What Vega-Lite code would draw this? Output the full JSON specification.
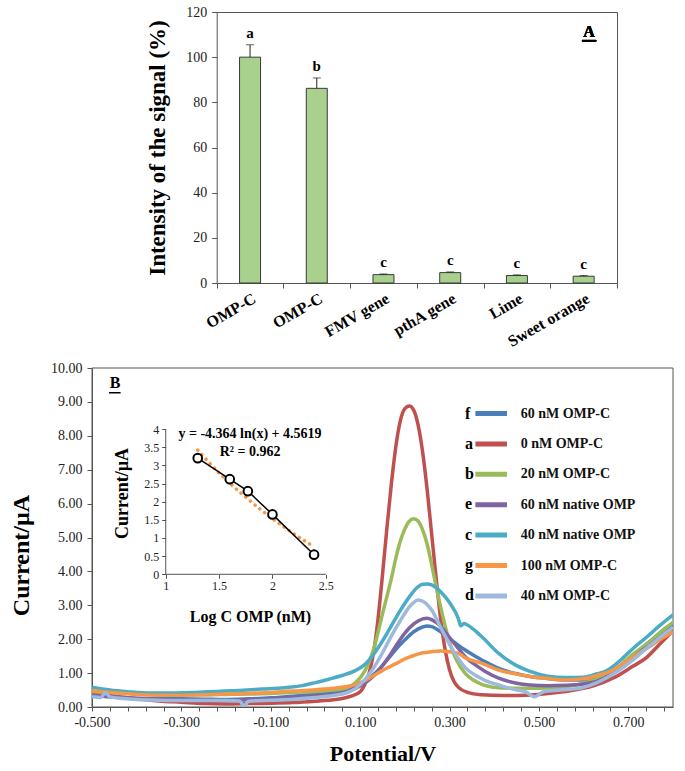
{
  "$schema": "https://vega.github.io/schema/vega-lite/v6.json",
  "background": "white",
  "padding": {"left": 9, "top": 5, "right": 5, "bottom": 2},
  "spacing": 11,
  "config": {
    "font": "Liberation Serif",
    "axis": {"grid": false, "labelFont": "Liberation Serif", "titleFont": "Liberation Serif", "labelColor": "#222", "titleColor": "#000", "domainColor": "#555", "tickColor": "#555", "labelFontSize": 14, "titleFontWeight": "bold"},
    "legend": {"labelFont": "Liberation Serif", "labelColor": "#111"},
    "text": {"font": "Liberation Serif"},
    "view": {"stroke": null}
  },
  "vconcat": [
    {
      "width": 525,
      "height": 271,
      "data": {"values": [
        {"sample": "OMP-C", "value": 100, "upper": 105.5, "group": "a"},
        {"sample": "OMP-C ", "value": 86.2, "upper": 90.8, "group": "b"},
        {"sample": "FMV gene", "value": 3.7, "upper": 4.0, "group": "c"},
        {"sample": "pthA gene", "value": 4.6, "upper": 4.9, "group": "c"},
        {"sample": "Lime", "value": 3.3, "upper": 3.6, "group": "c"},
        {"sample": "Sweet orange", "value": 3.0, "upper": 3.3, "group": "c"}
      ]},
      "resolve": {"axis": {"x": "independent", "y": "independent"}},
      "layer": [
        {
          "mark": {"type": "bar", "width": 21, "fill": "#a9d18e", "stroke": "#3a3a3a", "strokeWidth": 1},
          "encoding": {
            "x": {"field": "sample", "type": "nominal", "sort": null,
              "scale": {"range": [124.7, 525], "paddingInner": 0, "paddingOuter": 0},
              "axis": {"orient": "bottom", "title": null, "tickBand": "extent", "labelExpr": "trim(datum.label)", "labelAngle": -30, "labelFontSize": 16, "labelFontWeight": "bold", "labelColor": "#000", "tickSize": 5, "labelPadding": 2, "labelOverlap": false, "labelBound": false}},
            "y": {"field": "value", "type": "quantitative", "scale": {"domain": [0, 120], "nice": false},
              "axis": {"orient": "left", "offset": -124.7, "values": [0, 20, 40, 60, 80, 100, 120], "tickCount": 100, "title": "Intensity of the signal (%)", "titleFontSize": 23, "titlePadding": 16, "tickSize": 5, "labelPadding": 5}}
          }
        },
        {
          "mark": {"type": "rule", "color": "#222", "strokeWidth": 1},
          "encoding": {
            "x": {"field": "sample", "type": "nominal", "sort": null, "axis": {"orient": "top", "labels": false, "ticks": false, "title": null}},
            "y": {"field": "value", "type": "quantitative", "axis": {"orient": "right", "labels": false, "ticks": false, "title": null}},
            "y2": {"field": "upper"}
          }
        },
        {
          "mark": {"type": "tick", "orient": "horizontal", "color": "#222", "size": 8, "thickness": 1},
          "encoding": {
            "x": {"field": "sample", "type": "nominal", "sort": null, "axis": null},
            "y": {"field": "upper", "type": "quantitative", "axis": null}
          }
        },
        {
          "mark": {"type": "text", "fontSize": 15, "fontWeight": "bold", "dy": -7, "baseline": "alphabetic", "color": "#000"},
          "encoding": {
            "x": {"field": "sample", "type": "nominal", "sort": null, "axis": null},
            "y": {"field": "upper", "type": "quantitative", "axis": null},
            "text": {"field": "group"}
          }
        },
        {
          "mark": {"type": "text", "text": "A", "fontSize": 16, "fontWeight": "bold", "baseline": "alphabetic", "dx": 5.5, "color": "#000"},
          "encoding": {
            "x": {"datum": "Sweet orange", "type": "nominal", "axis": null},
            "y": {"datum": 108.8, "type": "quantitative", "axis": null}
          }
        },
        {
          "mark": {"type": "rule", "color": "#000", "strokeWidth": 1.5, "xOffset": -1.7, "x2Offset": 12.6},
          "encoding": {
            "x": {"datum": "Sweet orange", "type": "nominal", "axis": null},
            "x2": {"datum": "Sweet orange"},
            "y": {"datum": 107.3, "type": "quantitative", "axis": null}
          }
        }
      ]
    },
    {
      "width": 581,
      "height": 339,
      "resolve": {"scale": {"x": "independent", "y": "independent"}},
      "layer": [
        {
          "layer": [
            {
              "data": {"values": [{}]},
              "mark": {"type": "rect", "fillOpacity": 0, "stroke": "#555", "strokeWidth": 1},
              "encoding": {
                "x": {"datum": -0.5, "type": "quantitative"},
                "x2": {"datum": 0.8},
                "y": {"datum": 0, "type": "quantitative"},
                "y2": {"datum": 10}
              }
            },
            {
              "data": {"values": [
{"series":"60 nM OMP-C","potential":-0.5,"current":0.35},{"series":"60 nM OMP-C","potential":-0.46,"current":0.3},{"series":"60 nM OMP-C","potential":-0.4,"current":0.26},{"series":"60 nM OMP-C","potential":-0.35,"current":0.25},{"series":"60 nM OMP-C","potential":-0.3,"current":0.24},{"series":"60 nM OMP-C","potential":-0.25,"current":0.23},{"series":"60 nM OMP-C","potential":-0.2,"current":0.22},{"series":"60 nM OMP-C","potential":-0.15,"current":0.24},{"series":"60 nM OMP-C","potential":-0.1,"current":0.27},{"series":"60 nM OMP-C","potential":-0.05,"current":0.32},{"series":"60 nM OMP-C","potential":0,"current":0.38},{"series":"60 nM OMP-C","potential":0.04,"current":0.42},{"series":"60 nM OMP-C","potential":0.08,"current":0.55},{"series":"60 nM OMP-C","potential":0.1,"current":0.68},{"series":"60 nM OMP-C","potential":0.12,"current":0.85},{"series":"60 nM OMP-C","potential":0.14,"current":1.08},{"series":"60 nM OMP-C","potential":0.16,"current":1.38},{"series":"60 nM OMP-C","potential":0.18,"current":1.7},{"series":"60 nM OMP-C","potential":0.2,"current":1.98},{"series":"60 nM OMP-C","potential":0.22,"current":2.22},{"series":"60 nM OMP-C","potential":0.24,"current":2.36},{"series":"60 nM OMP-C","potential":0.25,"current":2.39},{"series":"60 nM OMP-C","potential":0.26,"current":2.37},{"series":"60 nM OMP-C","potential":0.28,"current":2.22},{"series":"60 nM OMP-C","potential":0.3,"current":2.02},{"series":"60 nM OMP-C","potential":0.32,"current":1.82},{"series":"60 nM OMP-C","potential":0.335,"current":1.68},{"series":"60 nM OMP-C","potential":0.36,"current":1.48},{"series":"60 nM OMP-C","potential":0.38,"current":1.33},{"series":"60 nM OMP-C","potential":0.41,"current":1.14},{"series":"60 nM OMP-C","potential":0.45,"current":0.98},{"series":"60 nM OMP-C","potential":0.48,"current":0.9},{"series":"60 nM OMP-C","potential":0.52,"current":0.84},{"series":"60 nM OMP-C","potential":0.56,"current":0.8},{"series":"60 nM OMP-C","potential":0.6,"current":0.8},{"series":"60 nM OMP-C","potential":0.63,"current":0.85},{"series":"60 nM OMP-C","potential":0.66,"current":0.98},{"series":"60 nM OMP-C","potential":0.69,"current":1.25},{"series":"60 nM OMP-C","potential":0.72,"current":1.62},{"series":"60 nM OMP-C","potential":0.75,"current":1.95},{"series":"60 nM OMP-C","potential":0.78,"current":2.28},{"series":"60 nM OMP-C","potential":0.8,"current":2.45},
{"series":"0 nM OMP-C","potential":-0.5,"current":0.42},{"series":"0 nM OMP-C","potential":-0.47,"current":0.36},{"series":"0 nM OMP-C","potential":-0.44,"current":0.3},{"series":"0 nM OMP-C","potential":-0.4,"current":0.24},{"series":"0 nM OMP-C","potential":-0.35,"current":0.18},{"series":"0 nM OMP-C","potential":-0.3,"current":0.14},{"series":"0 nM OMP-C","potential":-0.25,"current":0.1},{"series":"0 nM OMP-C","potential":-0.2,"current":0.09},{"series":"0 nM OMP-C","potential":-0.15,"current":0.1},{"series":"0 nM OMP-C","potential":-0.1,"current":0.11},{"series":"0 nM OMP-C","potential":-0.05,"current":0.13},{"series":"0 nM OMP-C","potential":0,"current":0.17},{"series":"0 nM OMP-C","potential":0.03,"current":0.2},{"series":"0 nM OMP-C","potential":0.06,"current":0.25},{"series":"0 nM OMP-C","potential":0.08,"current":0.32},{"series":"0 nM OMP-C","potential":0.1,"current":0.45},{"series":"0 nM OMP-C","potential":0.11,"current":0.65},{"series":"0 nM OMP-C","potential":0.12,"current":1.0},{"series":"0 nM OMP-C","potential":0.13,"current":1.6},{"series":"0 nM OMP-C","potential":0.14,"current":2.6},{"series":"0 nM OMP-C","potential":0.15,"current":3.9},{"series":"0 nM OMP-C","potential":0.16,"current":5.3},{"series":"0 nM OMP-C","potential":0.17,"current":6.6},{"series":"0 nM OMP-C","potential":0.18,"current":7.7},{"series":"0 nM OMP-C","potential":0.19,"current":8.45},{"series":"0 nM OMP-C","potential":0.2,"current":8.8},{"series":"0 nM OMP-C","potential":0.21,"current":8.88},{"series":"0 nM OMP-C","potential":0.22,"current":8.75},{"series":"0 nM OMP-C","potential":0.23,"current":8.3},{"series":"0 nM OMP-C","potential":0.24,"current":7.5},{"series":"0 nM OMP-C","potential":0.25,"current":6.4},{"series":"0 nM OMP-C","potential":0.26,"current":5.1},{"series":"0 nM OMP-C","potential":0.27,"current":3.8},{"series":"0 nM OMP-C","potential":0.28,"current":2.6},{"series":"0 nM OMP-C","potential":0.29,"current":1.7},{"series":"0 nM OMP-C","potential":0.3,"current":1.1},{"series":"0 nM OMP-C","potential":0.31,"current":0.75},{"series":"0 nM OMP-C","potential":0.32,"current":0.58},{"series":"0 nM OMP-C","potential":0.34,"current":0.43},{"series":"0 nM OMP-C","potential":0.37,"current":0.36},{"series":"0 nM OMP-C","potential":0.42,"current":0.34},{"series":"0 nM OMP-C","potential":0.47,"current":0.35},{"series":"0 nM OMP-C","potential":0.52,"current":0.4},{"series":"0 nM OMP-C","potential":0.57,"current":0.48},{"series":"0 nM OMP-C","potential":0.62,"current":0.62},{"series":"0 nM OMP-C","potential":0.67,"current":0.88},{"series":"0 nM OMP-C","potential":0.71,"current":1.2},{"series":"0 nM OMP-C","potential":0.74,"current":1.45},{"series":"0 nM OMP-C","potential":0.77,"current":1.85},{"series":"0 nM OMP-C","potential":0.8,"current":2.25},
{"series":"20 nM OMP-C","potential":-0.5,"current":0.45},{"series":"20 nM OMP-C","potential":-0.45,"current":0.42},{"series":"20 nM OMP-C","potential":-0.4,"current":0.39},{"series":"20 nM OMP-C","potential":-0.35,"current":0.37},{"series":"20 nM OMP-C","potential":-0.3,"current":0.36},{"series":"20 nM OMP-C","potential":-0.25,"current":0.36},{"series":"20 nM OMP-C","potential":-0.2,"current":0.37},{"series":"20 nM OMP-C","potential":-0.15,"current":0.38},{"series":"20 nM OMP-C","potential":-0.1,"current":0.4},{"series":"20 nM OMP-C","potential":-0.05,"current":0.43},{"series":"20 nM OMP-C","potential":0,"current":0.46},{"series":"20 nM OMP-C","potential":0.04,"current":0.5},{"series":"20 nM OMP-C","potential":0.07,"current":0.56},{"series":"20 nM OMP-C","potential":0.09,"current":0.72},{"series":"20 nM OMP-C","potential":0.11,"current":1.05},{"series":"20 nM OMP-C","potential":0.13,"current":1.7},{"series":"20 nM OMP-C","potential":0.15,"current":2.75},{"series":"20 nM OMP-C","potential":0.17,"current":3.8},{"series":"20 nM OMP-C","potential":0.18,"current":4.4},{"series":"20 nM OMP-C","potential":0.19,"current":4.9},{"series":"20 nM OMP-C","potential":0.2,"current":5.25},{"series":"20 nM OMP-C","potential":0.21,"current":5.48},{"series":"20 nM OMP-C","potential":0.22,"current":5.55},{"series":"20 nM OMP-C","potential":0.23,"current":5.48},{"series":"20 nM OMP-C","potential":0.24,"current":5.22},{"series":"20 nM OMP-C","potential":0.25,"current":4.8},{"series":"20 nM OMP-C","potential":0.26,"current":4.2},{"series":"20 nM OMP-C","potential":0.27,"current":3.55},{"series":"20 nM OMP-C","potential":0.28,"current":2.95},{"series":"20 nM OMP-C","potential":0.29,"current":2.4},{"series":"20 nM OMP-C","potential":0.3,"current":1.9},{"series":"20 nM OMP-C","potential":0.315,"current":1.4},{"series":"20 nM OMP-C","potential":0.335,"current":0.99},{"series":"20 nM OMP-C","potential":0.355,"current":0.78},{"series":"20 nM OMP-C","potential":0.375,"current":0.65},{"series":"20 nM OMP-C","potential":0.4,"current":0.58},{"series":"20 nM OMP-C","potential":0.43,"current":0.55},{"series":"20 nM OMP-C","potential":0.48,"current":0.55},{"series":"20 nM OMP-C","potential":0.52,"current":0.56},{"series":"20 nM OMP-C","potential":0.56,"current":0.6},{"series":"20 nM OMP-C","potential":0.6,"current":0.7},{"series":"20 nM OMP-C","potential":0.63,"current":0.82},{"series":"20 nM OMP-C","potential":0.67,"current":1.1},{"series":"20 nM OMP-C","potential":0.71,"current":1.55},{"series":"20 nM OMP-C","potential":0.75,"current":1.95},{"series":"20 nM OMP-C","potential":0.78,"current":2.3},{"series":"20 nM OMP-C","potential":0.8,"current":2.5},
{"series":"60 nM native OMP","potential":-0.5,"current":0.35},{"series":"60 nM native OMP","potential":-0.45,"current":0.3},{"series":"60 nM native OMP","potential":-0.4,"current":0.25},{"series":"60 nM native OMP","potential":-0.35,"current":0.22},{"series":"60 nM native OMP","potential":-0.3,"current":0.2},{"series":"60 nM native OMP","potential":-0.25,"current":0.19},{"series":"60 nM native OMP","potential":-0.2,"current":0.19},{"series":"60 nM native OMP","potential":-0.15,"current":0.21},{"series":"60 nM native OMP","potential":-0.1,"current":0.24},{"series":"60 nM native OMP","potential":-0.05,"current":0.28},{"series":"60 nM native OMP","potential":0,"current":0.33},{"series":"60 nM native OMP","potential":0.04,"current":0.38},{"series":"60 nM native OMP","potential":0.08,"current":0.5},{"series":"60 nM native OMP","potential":0.1,"current":0.62},{"series":"60 nM native OMP","potential":0.12,"current":0.8},{"series":"60 nM native OMP","potential":0.14,"current":1.05},{"series":"60 nM native OMP","potential":0.16,"current":1.4},{"series":"60 nM native OMP","potential":0.18,"current":1.8},{"series":"60 nM native OMP","potential":0.2,"current":2.18},{"series":"60 nM native OMP","potential":0.22,"current":2.45},{"series":"60 nM native OMP","potential":0.24,"current":2.6},{"series":"60 nM native OMP","potential":0.25,"current":2.62},{"series":"60 nM native OMP","potential":0.26,"current":2.58},{"series":"60 nM native OMP","potential":0.28,"current":2.38},{"series":"60 nM native OMP","potential":0.3,"current":2.05},{"series":"60 nM native OMP","potential":0.32,"current":1.72},{"series":"60 nM native OMP","potential":0.335,"current":1.48},{"series":"60 nM native OMP","potential":0.36,"current":1.22},{"series":"60 nM native OMP","potential":0.38,"current":1.05},{"series":"60 nM native OMP","potential":0.41,"current":0.85},{"series":"60 nM native OMP","potential":0.45,"current":0.7},{"series":"60 nM native OMP","potential":0.48,"current":0.65},{"series":"60 nM native OMP","potential":0.52,"current":0.63},{"series":"60 nM native OMP","potential":0.56,"current":0.64},{"series":"60 nM native OMP","potential":0.6,"current":0.68},{"series":"60 nM native OMP","potential":0.63,"current":0.76},{"series":"60 nM native OMP","potential":0.66,"current":0.95},{"series":"60 nM native OMP","potential":0.69,"current":1.22},{"series":"60 nM native OMP","potential":0.72,"current":1.55},{"series":"60 nM native OMP","potential":0.75,"current":1.85},{"series":"60 nM native OMP","potential":0.78,"current":2.15},{"series":"60 nM native OMP","potential":0.8,"current":2.35},
{"series":"40 nM native OMP","potential":-0.5,"current":0.58},{"series":"40 nM native OMP","potential":-0.46,"current":0.5},{"series":"40 nM native OMP","potential":-0.42,"current":0.45},{"series":"40 nM native OMP","potential":-0.37,"current":0.41},{"series":"40 nM native OMP","potential":-0.32,"current":0.41},{"series":"40 nM native OMP","potential":-0.27,"current":0.43},{"series":"40 nM native OMP","potential":-0.22,"current":0.46},{"series":"40 nM native OMP","potential":-0.17,"current":0.49},{"series":"40 nM native OMP","potential":-0.12,"current":0.53},{"series":"40 nM native OMP","potential":-0.07,"current":0.57},{"series":"40 nM native OMP","potential":-0.03,"current":0.63},{"series":"40 nM native OMP","potential":0,"current":0.72},{"series":"40 nM native OMP","potential":0.03,"current":0.82},{"series":"40 nM native OMP","potential":0.06,"current":0.93},{"series":"40 nM native OMP","potential":0.09,"current":1.08},{"series":"40 nM native OMP","potential":0.11,"current":1.25},{"series":"40 nM native OMP","potential":0.13,"current":1.55},{"series":"40 nM native OMP","potential":0.15,"current":1.95},{"series":"40 nM native OMP","potential":0.17,"current":2.4},{"series":"40 nM native OMP","potential":0.19,"current":2.85},{"series":"40 nM native OMP","potential":0.21,"current":3.25},{"series":"40 nM native OMP","potential":0.23,"current":3.55},{"series":"40 nM native OMP","potential":0.24,"current":3.62},{"series":"40 nM native OMP","potential":0.25,"current":3.63},{"series":"40 nM native OMP","potential":0.26,"current":3.6},{"series":"40 nM native OMP","potential":0.28,"current":3.4},{"series":"40 nM native OMP","potential":0.3,"current":3.08},{"series":"40 nM native OMP","potential":0.32,"current":2.6},{"series":"40 nM native OMP","potential":0.325,"current":2.4},{"series":"40 nM native OMP","potential":0.332,"current":2.46},{"series":"40 nM native OMP","potential":0.34,"current":2.42},{"series":"40 nM native OMP","potential":0.37,"current":2.1},{"series":"40 nM native OMP","potential":0.41,"current":1.58},{"series":"40 nM native OMP","potential":0.45,"current":1.22},{"series":"40 nM native OMP","potential":0.48,"current":1.05},{"series":"40 nM native OMP","potential":0.52,"current":0.91},{"series":"40 nM native OMP","potential":0.56,"current":0.87},{"series":"40 nM native OMP","potential":0.6,"current":0.88},{"series":"40 nM native OMP","potential":0.63,"current":0.98},{"series":"40 nM native OMP","potential":0.65,"current":1.06},{"series":"40 nM native OMP","potential":0.68,"current":1.35},{"series":"40 nM native OMP","potential":0.71,"current":1.72},{"series":"40 nM native OMP","potential":0.74,"current":2.05},{"series":"40 nM native OMP","potential":0.77,"current":2.4},{"series":"40 nM native OMP","potential":0.8,"current":2.72},
{"series":"100 nM OMP-C","potential":-0.5,"current":0.48},{"series":"100 nM OMP-C","potential":-0.45,"current":0.42},{"series":"100 nM OMP-C","potential":-0.4,"current":0.37},{"series":"100 nM OMP-C","potential":-0.35,"current":0.35},{"series":"100 nM OMP-C","potential":-0.3,"current":0.35},{"series":"100 nM OMP-C","potential":-0.25,"current":0.36},{"series":"100 nM OMP-C","potential":-0.2,"current":0.38},{"series":"100 nM OMP-C","potential":-0.15,"current":0.4},{"series":"100 nM OMP-C","potential":-0.1,"current":0.43},{"series":"100 nM OMP-C","potential":-0.05,"current":0.47},{"series":"100 nM OMP-C","potential":0,"current":0.51},{"series":"100 nM OMP-C","potential":0.05,"current":0.57},{"series":"100 nM OMP-C","potential":0.08,"current":0.63},{"series":"100 nM OMP-C","potential":0.1,"current":0.72},{"series":"100 nM OMP-C","potential":0.12,"current":0.85},{"series":"100 nM OMP-C","potential":0.14,"current":1.0},{"series":"100 nM OMP-C","potential":0.16,"current":1.15},{"series":"100 nM OMP-C","potential":0.18,"current":1.28},{"series":"100 nM OMP-C","potential":0.2,"current":1.42},{"series":"100 nM OMP-C","potential":0.22,"current":1.52},{"series":"100 nM OMP-C","potential":0.24,"current":1.6},{"series":"100 nM OMP-C","potential":0.26,"current":1.63},{"series":"100 nM OMP-C","potential":0.28,"current":1.65},{"series":"100 nM OMP-C","potential":0.3,"current":1.63},{"series":"100 nM OMP-C","potential":0.32,"current":1.58},{"series":"100 nM OMP-C","potential":0.335,"current":1.45},{"series":"100 nM OMP-C","potential":0.37,"current":1.3},{"series":"100 nM OMP-C","potential":0.41,"current":1.09},{"series":"100 nM OMP-C","potential":0.45,"current":0.97},{"series":"100 nM OMP-C","potential":0.48,"current":0.9},{"series":"100 nM OMP-C","potential":0.52,"current":0.84},{"series":"100 nM OMP-C","potential":0.56,"current":0.8},{"series":"100 nM OMP-C","potential":0.6,"current":0.83},{"series":"100 nM OMP-C","potential":0.63,"current":0.93},{"series":"100 nM OMP-C","potential":0.66,"current":1.05},{"series":"100 nM OMP-C","potential":0.7,"current":1.38},{"series":"100 nM OMP-C","potential":0.74,"current":1.72},{"series":"100 nM OMP-C","potential":0.77,"current":1.98},{"series":"100 nM OMP-C","potential":0.8,"current":2.22},
{"series":"40 nM OMP-C","potential":-0.5,"current":0.3},{"series":"40 nM OMP-C","potential":-0.48,"current":0.28},{"series":"40 nM OMP-C","potential":-0.47,"current":0.42},{"series":"40 nM OMP-C","potential":-0.46,"current":0.3},{"series":"40 nM OMP-C","potential":-0.43,"current":0.25},{"series":"40 nM OMP-C","potential":-0.4,"current":0.22},{"series":"40 nM OMP-C","potential":-0.35,"current":0.2},{"series":"40 nM OMP-C","potential":-0.3,"current":0.19},{"series":"40 nM OMP-C","potential":-0.25,"current":0.19},{"series":"40 nM OMP-C","potential":-0.2,"current":0.19},{"series":"40 nM OMP-C","potential":-0.17,"current":0.18},{"series":"40 nM OMP-C","potential":-0.16,"current":0.03},{"series":"40 nM OMP-C","potential":-0.15,"current":0.17},{"series":"40 nM OMP-C","potential":-0.1,"current":0.2},{"series":"40 nM OMP-C","potential":-0.05,"current":0.23},{"series":"40 nM OMP-C","potential":0,"current":0.28},{"series":"40 nM OMP-C","potential":0.04,"current":0.34},{"series":"40 nM OMP-C","potential":0.07,"current":0.42},{"series":"40 nM OMP-C","potential":0.09,"current":0.55},{"series":"40 nM OMP-C","potential":0.11,"current":0.8},{"series":"40 nM OMP-C","potential":0.13,"current":1.15},{"series":"40 nM OMP-C","potential":0.15,"current":1.6},{"series":"40 nM OMP-C","potential":0.17,"current":2.1},{"series":"40 nM OMP-C","potential":0.19,"current":2.55},{"series":"40 nM OMP-C","potential":0.21,"current":2.95},{"series":"40 nM OMP-C","potential":0.23,"current":3.16},{"series":"40 nM OMP-C","potential":0.24,"current":3.12},{"series":"40 nM OMP-C","potential":0.26,"current":2.86},{"series":"40 nM OMP-C","potential":0.28,"current":2.35},{"series":"40 nM OMP-C","potential":0.3,"current":1.85},{"series":"40 nM OMP-C","potential":0.32,"current":1.42},{"series":"40 nM OMP-C","potential":0.335,"current":1.16},{"series":"40 nM OMP-C","potential":0.36,"current":0.92},{"series":"40 nM OMP-C","potential":0.38,"current":0.78},{"series":"40 nM OMP-C","potential":0.41,"current":0.65},{"series":"40 nM OMP-C","potential":0.45,"current":0.5},{"series":"40 nM OMP-C","potential":0.47,"current":0.45},{"series":"40 nM OMP-C","potential":0.49,"current":0.3},{"series":"40 nM OMP-C","potential":0.51,"current":0.45},{"series":"40 nM OMP-C","potential":0.55,"current":0.5},{"series":"40 nM OMP-C","potential":0.6,"current":0.58},{"series":"40 nM OMP-C","potential":0.63,"current":0.72},{"series":"40 nM OMP-C","potential":0.67,"current":1.0},{"series":"40 nM OMP-C","potential":0.71,"current":1.38},{"series":"40 nM OMP-C","potential":0.74,"current":1.73},{"series":"40 nM OMP-C","potential":0.77,"current":2.05},{"series":"40 nM OMP-C","potential":0.8,"current":2.35}
              ]},
              "mark": {"type": "line", "strokeWidth": 3.5, "interpolate": "monotone", "clip": true},
              "encoding": {
                "x": {"field": "potential", "type": "quantitative",
                  "scale": {"domain": [-0.5, 0.8], "nice": false, "zero": false},
                  "axis": {"orient": "bottom", "values": [-0.5,-0.46,-0.42,-0.38,-0.34,-0.3,-0.26,-0.22,-0.18,-0.14,-0.1,-0.06,-0.02,0.02,0.06,0.1,0.14,0.18,0.22,0.26,0.3,0.34,0.38,0.42,0.46,0.5,0.54,0.58,0.62,0.66,0.7,0.74,0.78],
                    "tickCount": 200,
                    "labelExpr": "abs(round(datum.value*100)+50) % 20 == 0 ? replace(format(datum.value, '.3f'), '\u2212', '-') : ''",
                    "labelOverlap": false, "labelFlush": false, "labelBound": false, "tickSize": 4, "labelPadding": 4,
                    "title": "Potential/V", "titleFontSize": 22, "titlePadding": 14}},
                "y": {"field": "current", "type": "quantitative",
                  "scale": {"domain": [0, 10], "nice": false, "zero": false},
                  "axis": {"orient": "left", "values": [0,1,2,3,4,5,6,7,8,9,10], "tickCount": 200, "labelOverlap": false, "format": ".2f", "tickSize": 5, "labelPadding": 5,
                    "title": "Current/µA", "titleFontSize": 24, "titleX": -64, "titleY": 187, "titleAngle": -90, "titleBaseline": "alphabetic", "titleAlign": "center"}},
                "color": {"field": "series", "type": "nominal",
                  "scale": {"domain": ["60 nM OMP-C", "0 nM OMP-C", "20 nM OMP-C", "60 nM native OMP", "40 nM native OMP", "100 nM OMP-C", "40 nM OMP-C"],
                    "range": ["#4a7ebb", "#c0504d", "#9bbb59", "#8064a2", "#4bacc6", "#f79646", "#9db9dd"]},
                  "legend": {"orient": "none", "legendX": 380.7, "legendY": 383, "title": null, "symbolType": "stroke", "symbolSize": 1000, "symbolStrokeWidth": 5, "labelFontSize": 14, "labelFontWeight": "bold", "labelOffset": 11, "rowPadding": 1.4}}
              }
            },
            {
              "data": {"values": [{}]},
              "mark": {"type": "text", "text": "B", "fontSize": 16, "fontWeight": "bold", "baseline": "alphabetic", "color": "#000"},
              "encoding": {"x": {"datum": -0.4486, "type": "quantitative"}, "y": {"datum": 9.4, "type": "quantitative"}}
            },
            {
              "data": {"values": [{}]},
              "mark": {"type": "rule", "color": "#000", "strokeWidth": 1.5},
              "encoding": {"x": {"datum": -0.462, "type": "quantitative"}, "x2": {"datum": -0.436}, "y": {"datum": 9.27, "type": "quantitative"}}
            },
            {
              "data": {"values": [{"letter": "f"}, {"letter": "a"}, {"letter": "b"}, {"letter": "e"}, {"letter": "c"}, {"letter": "g"}, {"letter": "d"}]},
              "mark": {"type": "point", "opacity": 0},
              "encoding": {
                "shape": {"field": "letter", "type": "nominal",
                  "scale": {"domain": ["f", "a", "b", "e", "c", "g", "d"], "range": ["stroke"]},
                  "legend": {"orient": "none", "legendX": 334, "legendY": 383, "title": null, "symbolSize": 1000, "symbolOpacity": 0, "symbolStrokeWidth": 5, "labelFontSize": 16, "labelFontWeight": "bold", "labelOffset": 2, "rowPadding": 3.3, "labelColor": "#000"}}
              }
            }
          ]
        },
        {
          "layer": [
            {
              "data": {"values": [{}]},
              "mark": {"type": "rule", "color": "#555", "strokeWidth": 1},
              "encoding": {"x": {"datum": 1, "type": "quantitative"}, "x2": {"datum": 2.5}, "y": {"datum": 0, "type": "quantitative"}}
            },
            {
              "data": {"values": [{}]},
              "mark": {"type": "rule", "color": "#555", "strokeWidth": 1},
              "encoding": {"x": {"datum": 1, "type": "quantitative"}, "y": {"datum": 0, "type": "quantitative"}, "y2": {"datum": 4}}
            },
            {
              "data": {"values": [
                {"logc": 1.3, "fit": 3.42}, {"logc": 1.5, "fit": 2.79}, {"logc": 1.7, "fit": 2.25}, {"logc": 1.9, "fit": 1.76}, {"logc": 2.1, "fit": 1.32}, {"logc": 2.35, "fit": 0.83}
              ]},
              "mark": {"type": "line", "color": "#f79646", "strokeWidth": 3.5, "strokeDash": [0.1, 6], "strokeCap": "round", "interpolate": "monotone"},
              "encoding": {"x": {"field": "logc", "type": "quantitative"}, "y": {"field": "fit", "type": "quantitative"}}
            },
            {
              "data": {"values": [
                {"logc": 1.3, "cur": 3.2}, {"logc": 1.6, "cur": 2.62}, {"logc": 1.77, "cur": 2.29}, {"logc": 2.0, "cur": 1.65}, {"logc": 2.39, "cur": 0.54}
              ]},
              "mark": {"type": "line", "color": "#000", "strokeWidth": 1.5},
              "encoding": {
                "x": {"field": "logc", "type": "quantitative",
                  "scale": {"domain": [0.309, 5.754], "nice": false, "zero": false},
                  "axis": {"orient": "bottom", "offset": -132.7, "values": [1, 1.5, 2, 2.5], "tickCount": 100, "format": "~g", "domain": false, "tickSize": 4, "labelFontSize": 12, "labelPadding": 2, "labelFlush": false,
                    "title": "Log C OMP (nM)", "titleFontSize": 16, "titleX": 158, "titleY": 47, "titleBaseline": "alphabetic", "titleAlign": "center", "titleAngle": 0}},
                "y": {"field": "cur", "type": "quantitative",
                  "scale": {"domain": [-3.656, 5.683], "nice": false, "zero": false},
                  "axis": {"orient": "left", "offset": -73.7, "values": [0, 0.5, 1, 1.5, 2, 2.5, 3, 3.5, 4], "tickCount": 100, "format": "~g", "domain": false, "tickSize": 4, "labelFontSize": 12, "labelPadding": 3, "labelFlush": false,
                    "title": "Current/µA", "titleFontSize": 18, "titleX": -34, "titleY": 125, "titleAngle": -90, "titleBaseline": "bottom", "titleAlign": "center"}}
              }
            },
            {
              "data": {"values": [
                {"logc": 1.3, "cur": 3.2}, {"logc": 1.6, "cur": 2.62}, {"logc": 1.77, "cur": 2.29}, {"logc": 2.0, "cur": 1.65}, {"logc": 2.39, "cur": 0.54}
              ]},
              "mark": {"type": "point", "filled": true, "fill": "#ffffff", "stroke": "#000", "strokeWidth": 2, "size": 75, "opacity": 1},
              "encoding": {"x": {"field": "logc", "type": "quantitative"}, "y": {"field": "cur", "type": "quantitative"}}
            },
            {
              "data": {"values": [{}]},
              "mark": {"type": "text", "text": "y = -4.364 ln(x) + 4.5619", "fontSize": 14, "fontWeight": "bold", "align": "center", "baseline": "middle", "color": "#000"},
              "encoding": {"x": {"datum": 1.79, "type": "quantitative"}, "y": {"datum": 3.87, "type": "quantitative"}}
            },
            {
              "data": {"values": [{}]},
              "mark": {"type": "text", "text": "R² = 0.962", "fontSize": 14, "fontWeight": "bold", "align": "center", "baseline": "middle", "color": "#000"},
              "encoding": {"x": {"datum": 1.79, "type": "quantitative"}, "y": {"datum": 3.37, "type": "quantitative"}}
            }
          ]
        }
      ]
    }
  ]
}
